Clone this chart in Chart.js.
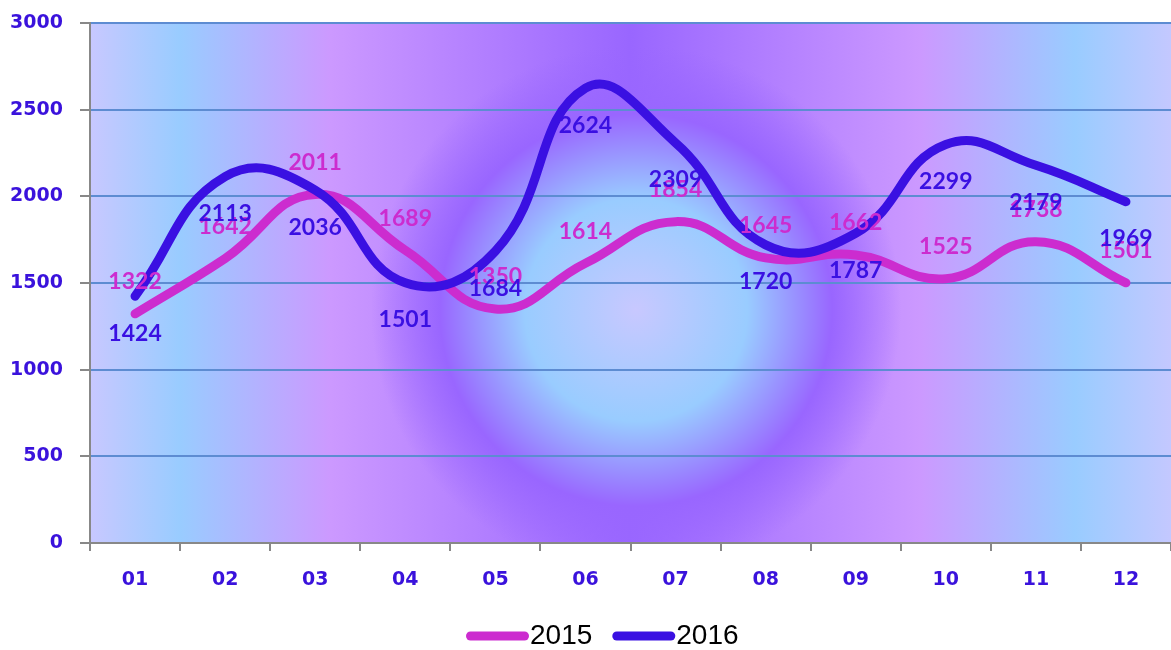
<!DOCTYPE html>
<html>
<head>
<meta charset="utf-8">
<script src="https://cdn.jsdelivr.net/npm/chart.js@4/dist/chart.umd.min.js"></script>
<style>
  body { margin: 0; background: #fff; }
  #wrap { width: 1171px; height: 650px; }
</style>
</head>
<body>
<div id="wrap"><canvas id="myChart" width="1171" height="650"></canvas></div>
<script>
// datos
const meses = ['01', '02', '03', '04', '05', '06', '07', '08', '09', '10', '11', '12'];
const serie2015 = [1322, 1642, 2011, 1689, 1350, 1614, 1854, 1645, 1662, 1525, 1738, 1501];
const serie2016 = [1424, 2113, 2036, 1501, 1684, 2624, 2309, 1720, 1787, 2299, 2179, 1969];
const etiquetas = ['2015', '2016'];

const rosa = '#cc2ccf';
const azul = '#3a10e2';
const textoAzul = '#3a12dc';

// fondo del area del grafico
const fondo = {
    id: 'fondo',
    beforeDraw(chart) {
        const { ctx, chartArea: a } = chart;
        ctx.save();
        const lin = ctx.createLinearGradient(a.left, 0, a.right, 0);
        const w = a.right - a.left;
        const stop = x => Math.min(1, Math.max(0, (x - a.left) / w));
        lin.addColorStop(0, '#c8c8ff');
        lin.addColorStop(stop(180), '#99ccff');
        lin.addColorStop(stop(330), '#cc99ff');
        lin.addColorStop(stop(630), '#9966ff');
        lin.addColorStop(stop(920), '#cc99ff');
        lin.addColorStop(stop(1075), '#99ccff');
        lin.addColorStop(1, '#c4c8ff');
        ctx.fillStyle = lin;
        ctx.fillRect(a.left, a.top, w, a.bottom - a.top);

        const cx = 636, cy = 310;
        const rad = ctx.createRadialGradient(cx, cy, 0, cx, cy, 265);
        rad.addColorStop(0, 'rgba(200,200,255,1)');
        rad.addColorStop(0.42, 'rgba(153,204,255,1)');
        rad.addColorStop(0.74, 'rgba(153,102,255,1)');
        rad.addColorStop(1, 'rgba(153,102,255,0)');
        ctx.fillStyle = rad;
        ctx.beginPath();
        ctx.rect(a.left, a.top, w, a.bottom - a.top);
        ctx.clip();
        ctx.fillRect(a.left, a.top, w, a.bottom - a.top);
        ctx.restore();
    }
};

// etiquetas de datos
const valores = {
    id: 'valores',
    afterDatasetsDraw(chart) {
        const { ctx } = chart;
        ctx.save();
        ctx.font = 'bold 23px Lato, "Open Sans", sans-serif';
        ctx.textAlign = 'center';
        ctx.textBaseline = 'middle';
        chart.data.datasets.forEach((ds, i) => {
            const meta = chart.getDatasetMeta(i);
            const dy = i === 0 ? -32 : 37;
            ctx.fillStyle = ds.borderColor;
            meta.data.forEach((pt, j) => {
                ctx.fillText(ds.data[j], pt.x, pt.y + dy);
            });
        });
        ctx.restore();
    }
};

// leyenda abajo
const leyenda = {
    id: 'leyenda',
    afterDraw(chart) {
        const { ctx } = chart;
        ctx.save();
        ctx.font = '28px "Liberation Sans", Arial, sans-serif';
        ctx.textBaseline = 'middle';
        ctx.textAlign = 'left';
        let x = 466;
        const y = 636;
        chart.data.datasets.forEach(ds => {
            ctx.strokeStyle = ds.borderColor;
            ctx.lineWidth = 9;
            ctx.lineCap = 'round';
            ctx.beginPath();
            ctx.moveTo(x + 4.5, y);
            ctx.lineTo(x + 58.5, y);
            ctx.stroke();
            ctx.fillStyle = '#000';
            ctx.fillText(ds.label, x + 64, y);
            x += 64 + ctx.measureText(ds.label).width + 20;
        });
        ctx.restore();
    }
};

const ctx = document.getElementById('myChart');

const data = {
    labels: meses,
    datasets: [{
        label: etiquetas[0],
        data: serie2015,
        borderColor: rosa,
        backgroundColor: rosa,
        borderWidth: 9,
        borderCapStyle: 'round',
        tension: 0.45,
        pointRadius: 0,
        order: 1
    },
    {
        label: etiquetas[1],
        data: serie2016,
        borderColor: azul,
        backgroundColor: azul,
        borderWidth: 9,
        borderCapStyle: 'round',
        tension: 0.45,
        pointRadius: 0,
        order: 0
    }]
};

const options = {
    responsive: false,
    animation: false,
    layout: {
        padding: { top: 23, right: 0, left: 0, bottom: 47 }
    },
    scales: {
        x: {
            offset: true,
            grid: {
                offset: true,
                drawOnChartArea: false,
                tickColor: '#888',
                tickLength: 8,
                lineWidth: 2
            },
            border: { color: '#888', width: 2 },
            ticks: {
                color: textoAzul,
                font: { family: '"DejaVu Sans"', weight: 'bold', size: 19 },
                padding: 18,
                maxRotation: 0
            },
            afterFit: scale => { scale.height = 60; }
        },
        y: {
            min: 0,
            max: 3000,
            ticks: {
                stepSize: 500,
                color: textoAzul,
                font: { family: '"DejaVu Sans"', weight: 'bold', size: 19 },
                padding: 17,
                callback: v => String(v)
            },
            grid: {
                color: '#5d8cd2',
                lineWidth: 2,
                tickColor: '#888',
                tickLength: 10
            },
            border: { color: '#888', width: 2 },
            afterFit: scale => {
                scale.width = 90;
                scale.paddingTop = 0;
                scale.paddingBottom = 0;
            }
        }
    },
    plugins: {
        legend: { display: false },
        tooltip: { enabled: false }
    }
};

new Chart(ctx, {
    type: 'line',
    data,
    options,
    plugins: [fondo, valores, leyenda]
});
</script>
</body>
</html>
